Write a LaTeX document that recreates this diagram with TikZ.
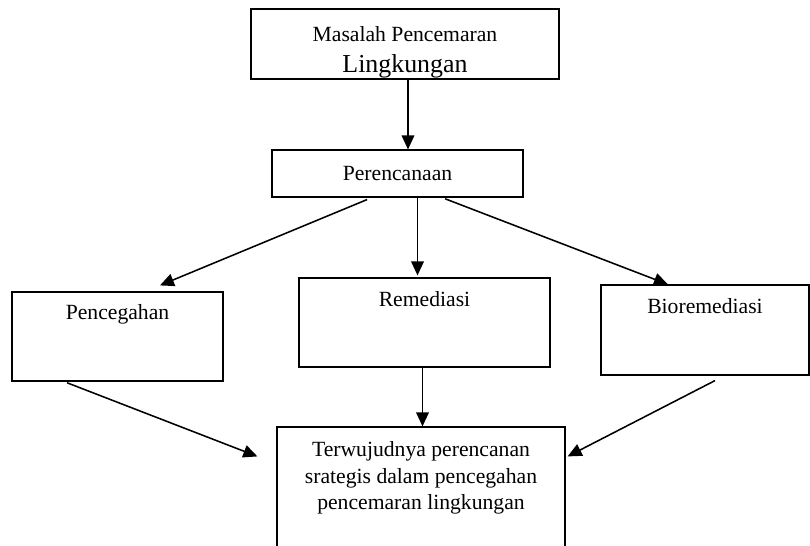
\documentclass[tikz,border=0pt]{standalone}
\usepackage{fontspec}
\setmainfont{Liberation Serif}
\usepackage{tikz}
\usetikzlibrary{arrows.meta}

\begin{document}
\begin{tikzpicture}[x=0.025cm,y=-0.025cm,
		kotak/.style={draw=black,line width=0.8pt,inner sep=0pt},
		teks/.style={anchor=north,inner sep=0pt,align=center,font=\fontsize{15.4}{18.85}\selectfont},
		panah/.style={line width=1.1pt,-{Triangle[length=10pt,width=9pt]}}]
				\useasboundingbox (0,0) rectangle (810,546);
				\node[kotak,minimum width=7.7cm,minimum height=1.75cm,label={[teks,yshift=-0.45cm,font=\fontsize{15.4}{22}\selectfont]north:Masalah Pencemaran\\{\fontsize{18.4}{22}\selectfont Lingkungan}}] (masalah) at (405,44) {};%atas
				\node[kotak,minimum width=6.275cm,minimum height=1.175cm,font=\fontsize{15.4}{18.85}\selectfont] (rencana) at (397.5,173.5) {Perencanaan};
				\node[kotak,minimum width=5.275cm,minimum height=2.225cm,label={[teks,yshift=-0.325cm]north:Pencegahan}] (cegah) at (117.5,336.5) {};%kiri
				\node[kotak,minimum width=6.275cm,minimum height=2.225cm,label={[teks,yshift=-0.35cm]north:Remediasi}] (remed) at (424.5,322.5) {};%tengah
				\node[kotak,minimum width=5.2cm,minimum height=2.25cm,label={[teks,yshift=-0.35cm]north:Bioremediasi}] (biorem) at (705,330) {};%kanan
				\node[kotak,minimum width=7.2cm,minimum height=3.325cm,label={[teks,yshift=-0.375cm]north:Terwujudnya perencanan\\srategis dalam pencegahan\\pencemaran lingkungan}] (hasil) at (421,493.5) {};%bawah
				
				\draw[panah] ([xshift=0.075cm]masalah.south) to ([xshift=0.075cm]masalah.south |- rencana.north);
				\draw[panah] ([xshift=-0.76cm,yshift=-0.05cm]rencana.south) to ([xshift=1.06cm,yshift=0.15cm]cegah.north);
				\draw[panah] ([xshift=0.5cm]rencana.south) to ([xshift=0.5cm,yshift=0.05cm]rencana.south |- remed.north);
				\draw[panah] ([xshift=1.19cm,yshift=-0.03cm]rencana.south) to ([xshift=-0.925cm]biorem.north);
				
				\draw[panah] ([xshift=-1.26cm,yshift=-0.03cm]cegah.south) to ([xshift=-0.475cm,yshift=-0.75cm]hasil.north west);
				\draw[panah] ([xshift=-0.05cm]remed.south) to ([xshift=-0.05cm]remed.south |- hasil.north);
				\draw[panah] ([xshift=0.25cm,yshift=-0.125cm]biorem.south) to ([xshift=0.05cm,yshift=-0.75cm]hasil.north east);
				
			\end{tikzpicture}
\end{document}
